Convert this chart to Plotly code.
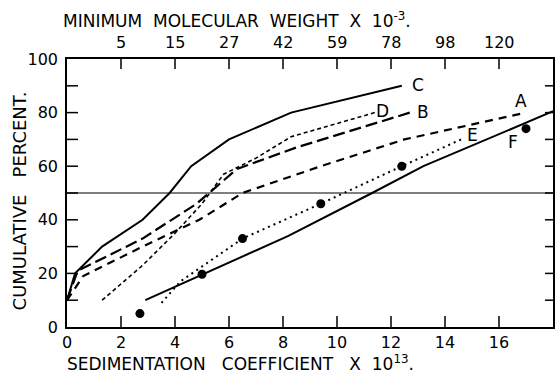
import plotly.graph_objects as go

# ---- data ----
c_x = [0, 0.3, 1.3, 2.8, 3.8, 4.6, 6.0, 8.3, 12.4]
c_y = [10, 20, 30, 40, 50, 60, 70, 80, 90]

b_x = [0, 0.4, 2.8, 4.8, 6.3, 8.5, 12.7]
b_y = [10, 21, 33, 46, 59, 67, 80]

a_x = [0, 0.6, 2.8, 4.9, 6.5, 9.4, 12.5, 17.0]
a_y = [10, 19, 30, 40, 50, 60, 70, 80]

d_x = [1.3, 2.8, 4.0, 5.0, 5.8, 7.0, 8.3, 11.4]
d_y = [10, 23, 35, 46, 57, 63, 71, 80]

e_x = [3.5, 4.2, 6.5, 9.4, 12.4, 14.6]
e_y = [9, 17, 33, 46, 60, 70]

f_x = [2.9, 5.0, 8.2, 11.3, 13.2, 18.0]
f_y = [10, 19.5, 34, 50, 60, 80.5]

pts_x = [2.7, 5.0, 6.5, 9.4, 12.4, 17.0]
pts_y = [5, 19.7, 33, 46, 60, 74]

label_names = ["C", "D", "B", "A", "E", "F"]
label_x = [13.0, 11.7, 13.2, 16.8, 15.0, 16.5]
label_y = [90.3, 80.6, 80.2, 84.3, 71.6, 69.0]

bottom_ticks = [0, 2, 4, 6, 8, 10, 12, 14, 16, 18]
top_tick_vals = [2, 4, 6, 8, 10, 12, 14, 16]
top_tick_text = ["5", "15", "27", "42", "59", "78", "98", "120"]
y_tick_vals = [0, 10, 20, 30, 40, 50, 60, 70, 80, 90, 100]
y_label_vals = [0, 20, 40, 60, 80, 100]
half_line = 50

FONT = "DejaVu Sans"
INK = "black"

fig = go.Figure()

def add_line(x, y, dash, width):
    fig.add_trace(go.Scatter(x=x, y=y, mode="lines",
                             line=dict(color=INK, width=width, dash=dash),
                             hoverinfo="skip", showlegend=False))

add_line(c_x, c_y, "solid", 2)
add_line(b_x, b_y, "12px,5px", 2.2)
add_line(a_x, a_y, "8px,6px", 2.2)
add_line(d_x, d_y, "4px,3px", 1.6)
add_line(e_x, e_y, "2px,4px", 2)
add_line(f_x, f_y, "solid", 2)

fig.add_trace(go.Scatter(x=pts_x, y=pts_y, mode="markers",
                         marker=dict(color=INK, size=9),
                         hoverinfo="skip", showlegend=False))

fig.add_hline(y=half_line, line=dict(color=INK, width=1.2))

for name, lx, ly in zip(label_names, label_x, label_y):
    fig.add_annotation(x=lx, y=ly, text=name, showarrow=False,
                       font=dict(family=FONT, size=17, color=INK))

# top axis labels (minimum molecular weight) at the top tick positions
for tv, tt in zip(top_tick_vals, top_tick_text):
    fig.add_annotation(x=tv, xref="x", y=1, yref="paper", yanchor="bottom",
                       yshift=5, text=tt, showarrow=False,
                       font=dict(family=FONT, size=16, color=INK))

# inward tick marks drawn as pixel-sized shapes anchored at the tick values
tick_line = dict(color=INK, width=1.5)
for tv in bottom_ticks[1:-1]:
    fig.add_shape(type="line", xref="x", yref="paper", ysizemode="pixel",
                  yanchor=0, x0=tv, x1=tv, y0=0, y1=11, line=tick_line)
for tv in top_tick_vals:
    fig.add_shape(type="line", xref="x", yref="paper", ysizemode="pixel",
                  yanchor=1, x0=tv, x1=tv, y0=0, y1=-10, line=tick_line)
for tv in y_tick_vals[1:-1]:
    fig.add_shape(type="line", xref="paper", yref="y", xsizemode="pixel",
                  xanchor=0, x0=0, x1=11, y0=tv, y1=tv, line=tick_line)
    fig.add_shape(type="line", xref="paper", yref="y", xsizemode="pixel",
                  xanchor=1, x0=0, x1=-8, y0=tv, y1=tv, line=tick_line)

fig.update_layout(
    width=560, height=373,
    margin=dict(l=67, r=5, t=59, b=46),
    paper_bgcolor="white", plot_bgcolor="white",
    font=dict(family=FONT, size=16, color=INK),
    xaxis=dict(range=[0, 18], tickvals=bottom_ticks, ticks="",
               showline=True, linecolor=INK, linewidth=1.5, mirror=True,
               showgrid=False, zeroline=False,
               tickfont=dict(family=FONT, size=16)),
    yaxis=dict(range=[0, 100], tickvals=y_label_vals,
               ticks="", ticklabelstandoff=4,
               showline=True, linecolor=INK, linewidth=1.5, mirror=True,
               showgrid=False, zeroline=False,
               tickfont=dict(family=FONT, size=16)),
)

fig.add_annotation(xref="paper", yref="paper", x=-0.012, y=1.146,
                   xanchor="left", yanchor="middle", showarrow=False,
                   text="MINIMUM  MOLECULAR  WEIGHT  X  10<sup>-3</sup>.",
                   font=dict(family=FONT, size=17, color=INK))
fig.add_annotation(xref="paper", yref="paper", x=-0.004, y=-0.134,
                   xanchor="left", yanchor="middle", showarrow=False,
                   text="SEDIMENTATION   COEFFICIENT   X  10<sup>13</sup>.",
                   font=dict(family=FONT, size=17, color=INK))
fig.add_annotation(xref="paper", yref="paper", x=-0.098, y=0.47,
                   xanchor="center", yanchor="middle", showarrow=False,
                   textangle=-90,
                   text="CUMULATIVE   PERCENT.",
                   font=dict(family=FONT, size=18, color=INK))

fig.write_html("out.html")
